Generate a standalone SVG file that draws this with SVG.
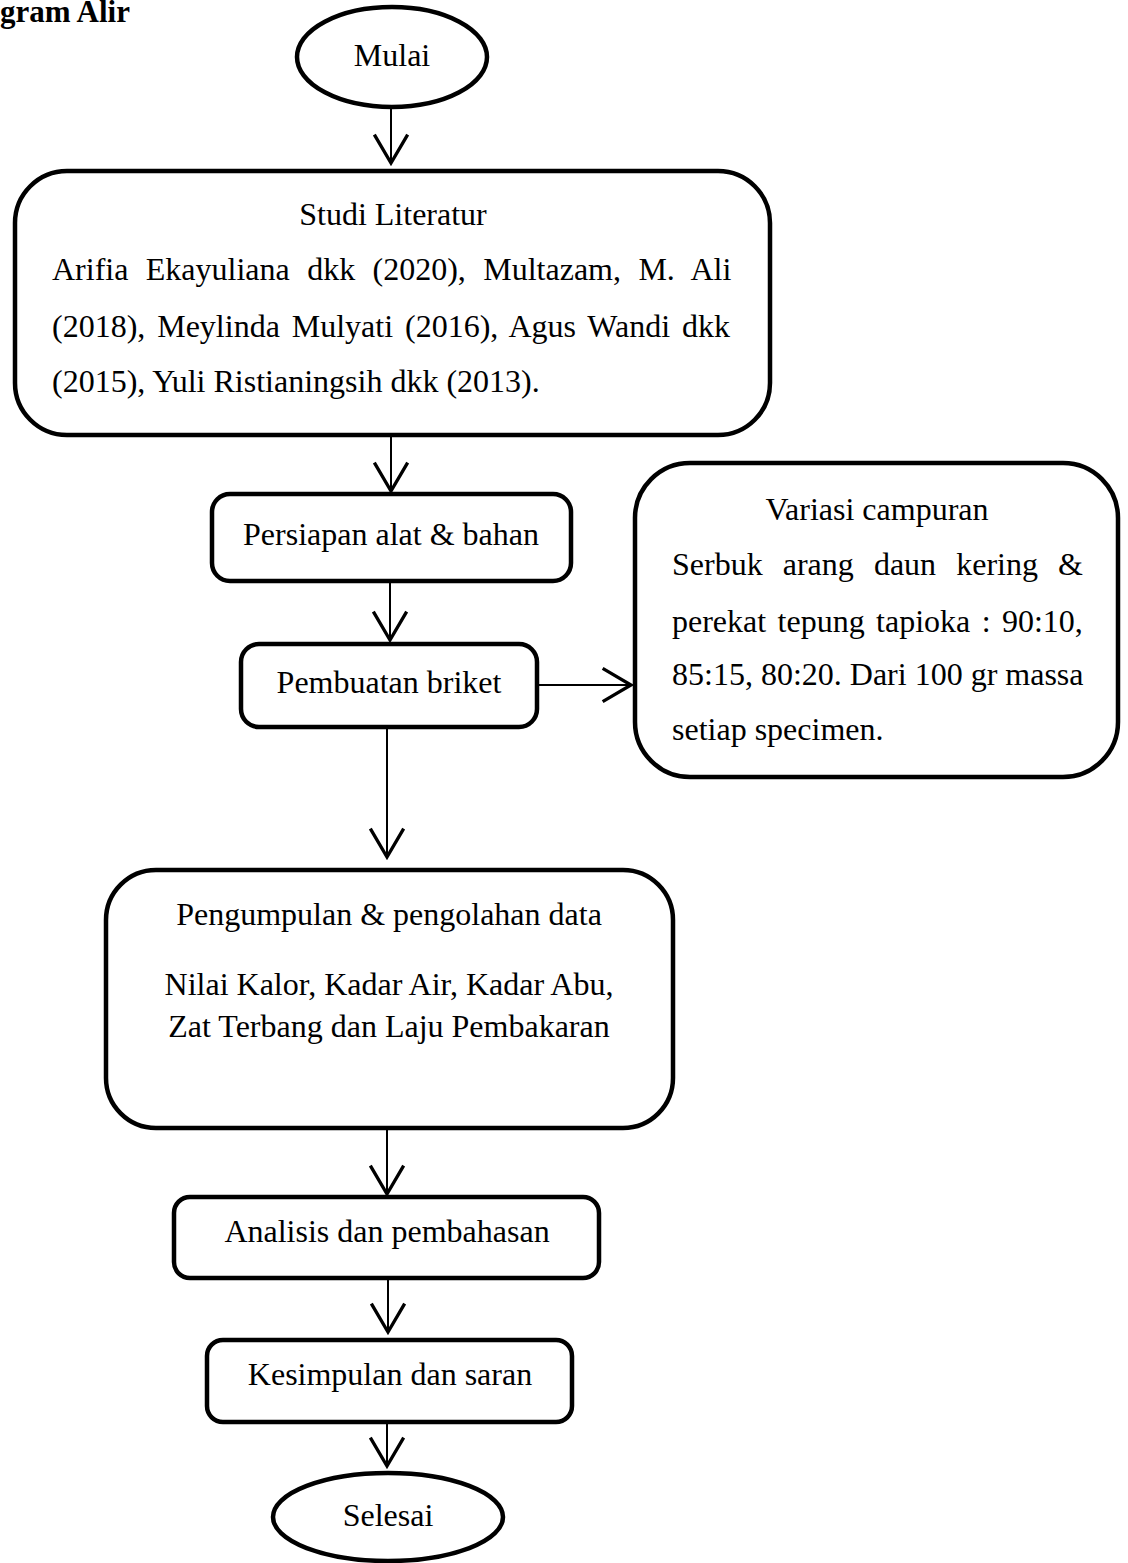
<svg xmlns="http://www.w3.org/2000/svg" width="1128" height="1563" viewBox="0 0 1128 1563">
<style>
.box{fill:#fff;stroke:#000;stroke-width:4.5}
.t{font-family:"Liberation Serif","Times New Roman",serif;font-size:32px;fill:#000}
.c{text-anchor:middle}
.ttl{font-family:"Liberation Serif","Times New Roman",serif;font-size:31px;font-weight:bold;fill:#000}
.con{fill:none;stroke:#000;stroke-width:2}
</style>
<defs>
<marker id="arr" markerUnits="userSpaceOnUse" markerWidth="40" markerHeight="40" viewBox="-20 -12 24 24" refX="0" refY="0" orient="auto" overflow="visible">
<path d="M-17,-10 L0,0 L-17,10" fill="none" stroke="#000" stroke-width="2"/>
</marker>
</defs>
<rect width="1128" height="1563" fill="#fff"/>
<text class="ttl" x="0" y="22">gram Alir</text>
<g id="connectors">
<line class="con" x1="391" y1="108" x2="391" y2="163" marker-end="url(#arr)"/>
<line class="con" x1="391" y1="436" x2="391" y2="491" marker-end="url(#arr)"/>
<line class="con" x1="390" y1="583" x2="390" y2="640" marker-end="url(#arr)"/>
<line class="con" x1="539" y1="685" x2="631" y2="685" marker-end="url(#arr)"/>
<line class="con" x1="387" y1="729" x2="387" y2="857" marker-end="url(#arr)"/>
<line class="con" x1="387" y1="1130" x2="387" y2="1194" marker-end="url(#arr)"/>
<line class="con" x1="388" y1="1280" x2="388" y2="1332" marker-end="url(#arr)"/>
<line class="con" x1="387" y1="1424" x2="387" y2="1466" marker-end="url(#arr)"/>
</g>
<g id="mulai">
<ellipse class="box" cx="392" cy="57" rx="95" ry="50"/>
<text class="t c" x="392" y="66">Mulai</text>
</g>
<g id="studi">
<rect class="box" x="15" y="171" width="755" height="264" rx="52" ry="52"/>
<text class="t c" x="393" y="225">Studi Literatur</text>
<text class="t" x="52" y="280" word-spacing="9.4">Arifia Ekayuliana dkk (2020), Multazam, M. Ali</text>
<text class="t" x="52" y="337" word-spacing="3.9">(2018), Meylinda Mulyati (2016), Agus Wandi dkk</text>
<text class="t" x="52" y="392">(2015), Yuli Ristianingsih dkk (2013).</text>
</g>
<g id="persiapan">
<rect class="box" x="212" y="494" width="359" height="87" rx="18" ry="18"/>
<text class="t c" x="391" y="545">Persiapan alat &amp; bahan</text>
</g>
<g id="pembuatan">
<rect class="box" x="241" y="644" width="296" height="83" rx="18" ry="18"/>
<text class="t c" x="389" y="693">Pembuatan briket</text>
</g>
<g id="variasi">
<rect class="box" x="635" y="463" width="483" height="314" rx="55" ry="55"/>
<text class="t c" x="877" y="520">Variasi campuran</text>
<text class="t" x="672" y="575" word-spacing="12.1">Serbuk arang daun kering &amp;</text>
<text class="t" x="672" y="632" word-spacing="3.4">perekat tepung tapioka : 90:10,</text>
<text class="t" x="672" y="685">85:15, 80:20. Dari 100 gr massa</text>
<text class="t" x="672" y="740">setiap specimen.</text>
</g>
<g id="pengumpulan">
<rect class="box" x="106" y="870" width="567" height="258" rx="50" ry="50"/>
<text class="t c" x="389" y="925">Pengumpulan &amp; pengolahan data</text>
<text class="t c" x="389" y="995">Nilai Kalor, Kadar Air, Kadar Abu,</text>
<text class="t c" x="389" y="1037">Zat Terbang dan Laju Pembakaran</text>
</g>
<g id="analisis">
<rect class="box" x="174" y="1197" width="425" height="81" rx="16" ry="16"/>
<text class="t c" x="387" y="1242">Analisis dan pembahasan</text>
</g>
<g id="kesimpulan">
<rect class="box" x="207" y="1340" width="365" height="82" rx="16" ry="16"/>
<text class="t c" x="390" y="1385">Kesimpulan dan saran</text>
</g>
<g id="selesai">
<ellipse class="box" cx="388" cy="1517" rx="115" ry="44"/>
<text class="t c" x="388" y="1526">Selesai</text>
</g>
</svg>
